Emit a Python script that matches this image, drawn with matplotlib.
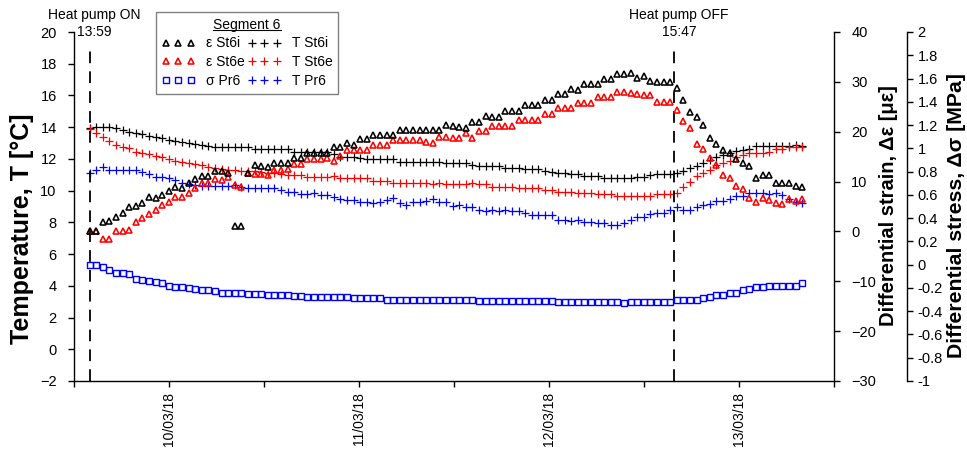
import matplotlib
matplotlib.use("Agg")
import matplotlib.pyplot as plt
import matplotlib.dates as mdates
import matplotlib.transforms as mtransforms
from matplotlib.lines import Line2D
from matplotlib.ticker import MultipleLocator, FuncFormatter
import pandas as pd

plt.rcParams['font.family'] = ['Liberation Sans', 'DejaVu Sans']

# readings every 50 min from heat pump start
times = pd.date_range('2018-03-09 13:59', periods=109, freq='50min')
pump_on = pd.Timestamp('2018-03-09 13:59')
pump_off = pd.Timestamp('2018-03-12 15:47')

# temperatures [°C]
T_St6i = [13.92, 14.03, 14.03, 14.03, 13.92, 13.82, 13.71, 13.61, 13.54, 13.44,
          13.40, 13.29, 13.19, 13.12, 13.08, 13.02, 12.93, 12.87, 12.83, 12.72,
          12.72, 12.72, 12.72, 12.72, 12.72, 12.62, 12.62, 12.62, 12.60, 12.60,
          12.60, 12.45, 12.45, 12.45, 12.45, 12.45, 12.45, 12.34, 12.13, 12.13,
          12.09, 12.07, 12.02, 12.02, 12.02, 12.02, 12.00, 11.82, 11.82, 11.82,
          11.82, 11.82, 11.82, 11.82, 11.72, 11.72, 11.72, 11.72, 11.61, 11.55,
          11.55, 11.55, 11.55, 11.40, 11.40, 11.40, 11.34, 11.34, 11.34, 11.25,
          11.19, 11.13, 11.13, 11.04, 11.04, 10.92, 10.92, 10.92, 10.81, 10.81,
          10.77, 10.77, 10.81, 10.83, 10.83, 10.98, 11.02, 11.02, 11.02, 11.12,
          11.23, 11.40, 11.55, 11.72, 11.93, 12.10, 12.24, 12.35, 12.49, 12.55,
          12.60, 12.83, 12.83, 12.83, 12.83, 12.83, 12.83, 12.87, 12.83]
T_St6e = [13.86, 13.65, 13.36, 13.14, 12.87, 12.76, 12.66, 12.45, 12.39, 12.30,
          12.18, 12.09, 11.97, 11.88, 11.82, 11.76, 11.67, 11.61, 11.46, 11.40,
          11.34, 11.30, 11.28, 11.26, 11.24, 11.22, 11.18, 11.14, 11.12, 11.08,
          10.98, 10.98, 10.98, 10.87, 10.87, 10.87, 10.87, 10.92, 10.77, 10.77,
          10.77, 10.77, 10.77, 10.62, 10.62, 10.62, 10.50, 10.50, 10.50, 10.50,
          10.50, 10.50, 10.41, 10.50, 10.41, 10.41, 10.39, 10.39, 10.45, 10.39,
          10.39, 10.24, 10.24, 10.24, 10.24, 10.18, 10.18, 10.18, 10.18, 10.03,
          10.03, 9.93, 9.93, 9.93, 9.83, 9.83, 9.83, 9.76, 9.76, 9.76,
          9.66, 9.66, 9.66, 9.66, 9.66, 9.66, 9.76, 9.76, 9.76, 9.83,
          10.24, 10.56, 10.92, 11.13, 11.30, 11.61, 11.76, 11.88, 12.09, 12.24,
          12.39, 12.39, 12.39, 12.45, 12.60, 12.60, 12.76, 12.76, 12.76]
T_Pr6 = [11.12, 11.30, 11.46, 11.33, 11.33, 11.33, 11.33, 11.33, 11.19, 11.04,
         10.87, 10.87, 10.77, 10.67, 10.50, 10.41, 10.35, 10.29, 10.29, 10.29,
         10.29, 10.29, 10.35, 10.24, 10.18, 10.16, 10.16, 10.18, 10.18, 10.03,
         9.93, 9.93, 9.78, 9.78, 9.82, 9.72, 9.72, 9.61, 9.45, 9.40,
         9.40, 9.30, 9.30, 9.20, 9.30, 9.40, 9.51, 9.20, 9.09, 9.30,
         9.30, 9.36, 9.45, 9.30, 9.30, 9.03, 9.09, 8.98, 8.94, 8.81,
         8.71, 8.81, 8.71, 8.81, 8.71, 8.71, 8.60, 8.46, 8.46, 8.46,
         8.46, 8.18, 8.18, 8.08, 8.14, 8.04, 8.00, 7.93, 7.93, 7.83,
         7.83, 7.93, 8.14, 8.35, 8.35, 8.52, 8.60, 8.60, 8.77, 8.94,
         8.81, 8.81, 8.94, 9.09, 9.15, 9.36, 9.36, 9.45, 9.66, 9.66,
         9.83, 9.83, 9.83, 9.80, 9.87, 9.72, 9.45, 9.30, 9.20]

# differential strain [µε]
eps_St6i = [0.0, 0.0, 1.95, 2.09, 2.95, 3.63, 4.96, 5.10, 5.64, 6.84,
            6.78, 7.30, 8.17, 8.97, 8.65, 9.65, 10.43, 11.17, 11.17, 12.18,
            12.18, 11.78, 1.15, 1.15, 11.78, 13.30, 13.10, 12.95, 13.80, 13.80,
            13.80, 14.79, 14.79, 15.79, 15.79, 15.79, 15.79, 16.87, 16.87, 17.80,
            17.33, 18.47, 18.47, 19.34, 19.34, 19.34, 19.34, 20.34, 20.34, 20.34,
            20.34, 20.34, 20.34, 20.34, 21.34, 21.20, 20.87, 20.67, 22.00, 22.00,
            23.15, 22.88, 22.88, 24.15, 24.15, 24.15, 25.35, 25.35, 25.35, 26.35,
            26.35, 27.56, 27.56, 28.50, 28.40, 29.50, 29.50, 29.50, 30.57, 30.57,
            31.57, 31.57, 31.70, 30.80, 31.23, 30.23, 29.90, 29.90, 29.90, 28.70,
            26.35, 24.00, 23.00, 21.34, 18.80, 17.47, 16.33, 15.66, 14.46, 13.66,
            13.12, 10.65, 11.32, 11.32, 9.78, 9.78, 9.65, 9.11, 8.97]
eps_St6e = [0.0, 0.0, -1.58, -1.58, 0.08, 0.0, 0.28, 1.95, 2.75, 3.43,
            4.30, 5.30, 5.96, 6.97, 6.84, 7.77, 8.77, 9.65, 9.65, 10.43,
            10.30, 10.97, 9.31, 8.97, 11.63, 11.50, 11.50, 11.40, 12.30, 12.30,
            12.60, 13.45, 13.45, 14.45, 14.45, 14.45, 14.65, 14.12, 15.13, 16.33,
            16.33, 16.33, 16.33, 17.33, 17.33, 17.33, 18.34, 18.34, 18.34, 18.34,
            18.34, 18.00, 17.67, 18.87, 18.87, 18.80, 18.80, 19.80, 18.80, 20.14,
            20.14, 21.14, 21.14, 21.14, 21.14, 22.35, 22.35, 22.35, 22.35, 23.55,
            23.55, 24.69, 24.69, 24.69, 25.83, 25.83, 25.83, 26.90, 26.90, 26.90,
            28.02, 28.02, 27.69, 27.50, 27.36, 27.36, 25.89, 25.89, 25.89, 24.35,
            22.20, 20.80, 17.47, 16.47, 14.65, 13.32, 11.32, 10.78, 9.11, 8.45,
            6.64, 5.84, 6.76, 6.30, 5.76, 5.44, 6.44, 6.10, 6.44]

# differential stress [MPa]
sig_Pr6 = [0.00, 0.00, -0.02, -0.05, -0.07, -0.07, -0.08, -0.12, -0.13, -0.14,
           -0.15, -0.16, -0.18, -0.19, -0.19, -0.20, -0.21, -0.22, -0.22, -0.23,
           -0.24, -0.24, -0.24, -0.24, -0.25, -0.25, -0.25, -0.26, -0.26, -0.26,
           -0.26, -0.27, -0.27, -0.28, -0.28, -0.28, -0.28, -0.28, -0.28, -0.28,
           -0.29, -0.29, -0.29, -0.29, -0.29, -0.30, -0.30, -0.30, -0.30, -0.30,
           -0.30, -0.30, -0.30, -0.30, -0.30, -0.30, -0.30, -0.30, -0.30, -0.31,
           -0.31, -0.31, -0.31, -0.31, -0.31, -0.31, -0.31, -0.31, -0.31, -0.31,
           -0.31, -0.32, -0.32, -0.32, -0.32, -0.32, -0.32, -0.32, -0.32, -0.32,
           -0.32, -0.33, -0.32, -0.32, -0.32, -0.32, -0.32, -0.32, -0.32, -0.30,
           -0.30, -0.30, -0.30, -0.29, -0.28, -0.26, -0.26, -0.24, -0.24, -0.22,
           -0.21, -0.19, -0.19, -0.18, -0.18, -0.18, -0.18, -0.18, -0.16]

W, H = 967, 454
fig = plt.figure(figsize=(W / 100, H / 100), dpi=100)
ax = fig.add_axes([74 / W, 1 - 381 / H, 760 / W, 349 / H])
ax2 = ax.twinx()
ax3 = ax.twinx()
ax3.spines['right'].set_position(('axes', 1 + 73 / 760))

# temperatures
ax.plot(times, T_St6i, ls='none', marker='+', ms=5.5, mew=0.9, color='black', label='T St6i')
ax.plot(times, T_St6e, ls='none', marker='+', ms=5.5, mew=0.9, color='red', label='T St6e')
ax.plot(times, T_Pr6, ls='none', marker='+', ms=5.5, mew=0.9, color='blue', label='T Pr6')

# strains
l_e = ax2.plot(times, eps_St6e, ls='none', marker='^', ms=4.4, mfc='none', mec='red', mew=1.15, label='ε St6e')[0]
l_i = ax2.plot(times, eps_St6i, ls='none', marker='^', ms=4.4, mfc='none', mec='black', mew=1.15, label='ε St6i')[0]

# stress
l_s = ax3.plot(times, sig_Pr6, ls='none', marker='s', ms=4.6, mfc='none', mec='blue', mew=1.0, label='σ Pr6')[0]

# heat pump on / off
for t in (pump_on, pump_off):
    ax.axvline(t, ymin=0, ymax=21 / 22, color='black', lw=1.3, dashes=(6.5, 4.5))

ax.set_xlim(pd.Timestamp('2018-03-09 12:00'), pd.Timestamp('2018-03-13 12:00'))
ax.xaxis.set_major_locator(mdates.DayLocator())
ax.xaxis.set_minor_locator(mdates.HourLocator(byhour=[12]))
ax.xaxis.set_major_formatter(mdates.DateFormatter('%d/%m/%y'))
ax.tick_params(axis='x', which='both', direction='out', length=4, width=1, pad=4,
               labelsize=10, labelrotation=90)

ax.set_ylim(-2, 20)
ax.yaxis.set_major_locator(MultipleLocator(2))
ax2.set_ylim(-30, 40)
ax2.yaxis.set_major_locator(MultipleLocator(10))
ax3.set_ylim(-1, 2)
ax3.yaxis.set_major_locator(MultipleLocator(0.2))
ax3.yaxis.set_major_formatter(FuncFormatter(lambda v, _: f"{round(v, 1) + 0:g}"))

ax.tick_params(axis='y', direction='out', length=4, width=1, pad=8.5, labelsize=10.5)
ax2.tick_params(axis='y', direction='out', length=4, width=1, pad=8.5, labelsize=10.5)
ax3.tick_params(axis='y', direction='out', length=4, width=1, pad=3.5, labelsize=10.5)

for a in (ax, ax2, ax3):
    a.spines['top'].set_visible(False)
    for s in a.spines.values():
        s.set_linewidth(1.0)
ax.spines['right'].set_visible(False)
for a in (ax2, ax3):
    a.spines['left'].set_visible(False)
    a.spines['bottom'].set_visible(False)

# axis titles
fig.text(22 / W, 1 - 229 / H, 'Temperature, T [°C]', rotation=90, ha='center', va='center',
         fontsize=18, fontweight='bold')
fig.text(888 / W, 1 - 206 / H, 'Differential strain, Δε [με]', rotation=90, ha='center',
         va='center', fontsize=14.5, fontweight='bold')
fig.text(957 / W, 1 - 216 / H, 'Differential stress, Δσ [MPa]', rotation=90, ha='center',
         va='center', fontsize=15.3, fontweight='bold')

# annotations above the dashed lines
trans = mtransforms.blended_transform_factory(ax.transData, fig.transFigure) + \
    mtransforms.ScaledTranslation(5 / 100, 0, fig.dpi_scale_trans)
ax.text(pump_on, 1 - 15 / H, 'Heat pump ON', transform=trans, ha='center', va='center', fontsize=10)
ax.text(pump_on, 1 - 32 / H, '13:59', transform=trans, ha='center', va='center', fontsize=10)
ax.text(pump_off, 1 - 15 / H, 'Heat pump OFF', transform=trans, ha='center', va='center', fontsize=10)
ax.text(pump_off, 1 - 32 / H, '15:47', transform=trans, ha='center', va='center', fontsize=10)

# legend
t_lines = ax.get_lines()[:3]
handles = [l_i, l_e, l_s] + list(t_lines)
labels = [h.get_label() for h in handles]
leg = fig.legend(handles, labels, loc='upper left', bbox_to_anchor=(156 / W, 1 - 12 / H),
                 ncol=2, numpoints=3, title='Segment 6', fontsize=10, title_fontsize=10,
                 handlelength=2.4, handletextpad=0.8, columnspacing=0.2, labelspacing=0.35,
                 borderpad=0.4, borderaxespad=0, fancybox=False, framealpha=1,
                 edgecolor='#808080')
leg.get_frame().set_linewidth(1.0)

# underline the legend title
fig.canvas.draw()
bb = leg.get_title().get_window_extent(fig.canvas.get_renderer())
y_ul = (bb.y0 + 2) / H
fig.add_artist(Line2D([bb.x0 / W, bb.x1 / W], [y_ul, y_ul], color='black', lw=0.8, zorder=10))

fig.savefig('out.png', dpi=100)
